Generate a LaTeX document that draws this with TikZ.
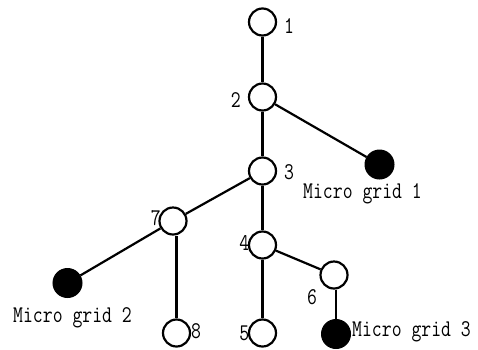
\documentclass[tikz,border=0pt]{standalone}
\usepackage{fontspec}
\newfontfamily\lblfont[FakeStretch=0.8]{Latin Modern Mono}
\begin{document}
\begin{tikzpicture}[x=1pt,y=-1pt,
  bus/.style={circle,draw,line width=2.2pt,minimum size=27pt,inner sep=0pt},
  mg/.style={circle,draw,fill=black,line width=1pt,minimum size=29pt,inner sep=0pt},
  lbl/.style={font=\lblfont\fontsize{24}{24}\selectfont,inner sep=0pt},
  edge/.style={line width=2.2pt}]
\useasboundingbox (0,0) rectangle (478,349);
\node[bus] (n1) at (262.5,22) {};
\node[bus] (n2) at (262.5,97) {};
\node[bus] (n3) at (262.5,171) {};
\node[bus] (n7) at (173,221) {};
\node[bus] (n4) at (262.5,245) {};
\node[bus] (n6) at (334,275) {};
\node[bus] (n8) at (176.5,333) {};
\node[bus] (n5) at (262.5,333) {};
\node[mg] (m1) at (379.5,164.5) {};
\node[mg] (m2) at (67.5,283) {};
\node[mg] (m3) at (336,334) {};
\node[lbl,anchor=west] (l1) at (284,26) {1};
\node[lbl,anchor=east] (l2) at (241,100) {2};
\node[lbl,anchor=west] (l3) at (284,172) {3};
\node[lbl,anchor=east] (l7) at (161,218) {7};
\node[lbl,anchor=east] (l4) at (249.5,243) {4};
\node[lbl] (l6) at (312,297) {6};
\node[lbl,anchor=west] (l8) at (191,331) {8};
\node[lbl,anchor=east] (l5) at (249.5,333) {5};
\node[lbl,anchor=west] (t1) at (303,194) {Micro grid 1};
\node[lbl,anchor=west] (t2) at (13,318) {Micro grid 2};
\node[lbl,anchor=west] (t3) at (352,332) {Micro grid 3};
\draw[edge] (n1) -- (n2);
\draw[edge] (n2) -- (n3);
\draw[edge] (n2) -- (m1);
\draw[edge] (n3) -- (n7);
\draw[edge] (n3) -- (n4);
\draw[edge] (n7) -- (m2);
\draw[edge] (n7.south -| n8) -- (n8);
\draw[edge] (n4) -- (n5);
\draw[edge] (n4) -- (n6);
\draw[edge] (n6.south -| m3) -- (m3);
\end{tikzpicture}
\end{document}
